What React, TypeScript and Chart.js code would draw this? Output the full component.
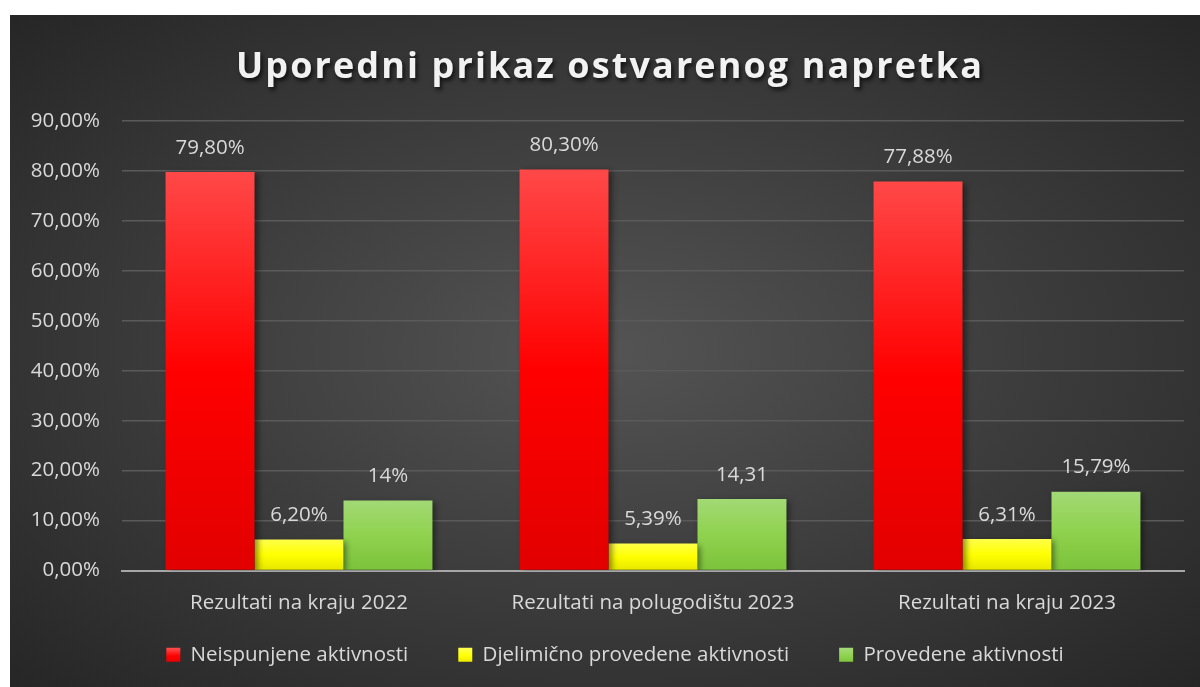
import React, { useEffect, useRef } from "react";
import { Chart, registerables } from "chart.js";

Chart.register(...registerables);

const chartTitle = "Uporedni prikaz ostvarenog napretka";
const categories = [
  "Rezultati na kraju 2022",
  "Rezultati na polugodištu 2023",
  "Rezultati na kraju 2023",
];
const seriesNames = [
  "Neispunjene aktivnosti",
  "Djelimično provedene aktivnosti",
  "Provedene aktivnosti",
];
const neispunjene = [79.8, 80.3, 77.88];
const djelimicno = [6.2, 5.39, 6.31];
const provedene = [14, 14.31, 15.79];
const neispunjeneLabels = ["79,80%", "80,30%", "77,88%"];
const djelimicnoLabels = ["6,20%", "5,39%", "6,31%"];
const provedeneLabels = ["14%", "14,31", "15,79%"];
const yMin = 0;
const yMax = 90;
const yStep = 10;

const FONT = "'Open Sans', 'Noto Sans', sans-serif";
const TEXT = "#d9d9d9";
const FS = 20.5;

const redStops = ["#ff4848", "#ff0000", "#e20000"];
const yellowStops = ["#ffff4a", "#ffff00", "#e6e600"];
const greenStops = ["#a2d975", "#8fd24e", "#7cc23a"];
const allStops = [redStops, yellowStops, greenStops];

const LEGEND_DX = 13;
const LEGEND_DY = -22;

const gradient = (stops: string[]) => (c: any) => {
  const chart = c.chart;
  const { chartArea, scales } = chart;
  if (!chartArea || c.type !== "data" || !scales.y) return stops[1];
  const v = c.raw as number;
  const y0 = scales.y.getPixelForValue(v);
  const y1 = scales.y.getPixelForValue(0);
  if (!isFinite(y0) || !isFinite(y1) || y0 === y1) return stops[1];
  const g = chart.ctx.createLinearGradient(0, y0, 0, y1);
  g.addColorStop(0, stops[0]);
  g.addColorStop(0.5, stops[1]);
  g.addColorStop(1, stops[2]);
  return g;
};

const labelSets = [neispunjeneLabels, djelimicnoLabels, provedeneLabels];

const barDecor = {
  id: "barDecor",
  afterLayout(chart: any) {
    const lg = chart.legend;
    if (lg) {
      lg.left += LEGEND_DX;
      lg.right += LEGEND_DX;
      lg.top += LEGEND_DY;
      lg.bottom += LEGEND_DY;
    }
  },
  beforeDatasetsDraw(chart: any) {
    const ctx = chart.ctx;
    ctx.save();
    ctx.shadowColor = "rgba(0,0,0,0.45)";
    ctx.shadowBlur = 6;
    ctx.shadowOffsetX = 3;
    ctx.shadowOffsetY = 2;
  },
  afterDatasetsDraw(chart: any) {
    const ctx = chart.ctx;
    ctx.restore();
    ctx.save();
    ctx.font = `${FS}px ${FONT}`;
    ctx.fillStyle = TEXT;
    ctx.textAlign = "center";
    ctx.textBaseline = "middle";
    chart.data.datasets.forEach((_ds: any, i: number) => {
      const meta = chart.getDatasetMeta(i);
      meta.data.forEach((el: any, j: number) => {
        ctx.fillText(labelSets[i][j], el.x, el.y - 24);
      });
    });
    ctx.restore();
  },
  afterDraw(chart: any) {
    const ctx = chart.ctx;
    ctx.save();
    ctx.font = `bold 36px ${FONT}`;
    (ctx as any).letterSpacing = "2.1px";
    ctx.fillStyle = "#f2f2f2";
    ctx.textAlign = "center";
    ctx.textBaseline = "alphabetic";
    ctx.shadowColor = "rgba(0,0,0,0.7)";
    ctx.shadowBlur = 4;
    ctx.shadowOffsetX = 2;
    ctx.shadowOffsetY = 3;
    ctx.fillText(chartTitle, 600, 63);
    ctx.restore();
  },
};

export default function App() {
  const ref = useRef<HTMLCanvasElement | null>(null);
  useEffect(() => {
    if (!ref.current) return;
    const chart = new Chart(ref.current, {
      type: "bar",
      data: {
        labels: categories,
        datasets: [
          { label: seriesNames[0], data: neispunjene, backgroundColor: gradient(redStops) as any },
          { label: seriesNames[1], data: djelimicno, backgroundColor: gradient(yellowStops) as any },
          { label: seriesNames[2], data: provedene, backgroundColor: gradient(greenStops) as any },
        ],
      },
      options: {
        animation: false,
        responsive: false,
        maintainAspectRatio: false,
        layout: { padding: { top: 106, left: 10, right: 16, bottom: -10 } },
        datasets: { bar: { categoryPercentage: 0.754, barPercentage: 1 } },
        plugins: {
          title: { display: false },
          tooltip: { enabled: false },
          legend: {
            position: "bottom",
            labels: {
              color: TEXT,
              font: { family: FONT, size: FS },
              boxWidth: 14,
              boxHeight: 14,
              padding: 50,
              generateLabels: (chart: any) => {
                const items = Chart.defaults.plugins.legend.labels.generateLabels(chart);
                const lg = chart.legend;
                return items.map((it: any, i: number) => {
                  const stops = allStops[i];
                  const g = chart.ctx.createLinearGradient(0, 634, 0, 648);
                  g.addColorStop(0, stops[0]);
                  g.addColorStop(0.5, stops[1]);
                  g.addColorStop(1, stops[2]);
                  return { ...it, fillStyle: g, strokeStyle: "rgba(0,0,0,0)", lineWidth: 0 };
                });
              },
            },
          },
        },
        scales: {
          x: {
            grid: { display: false, drawTicks: false },
            border: { color: "#a6a6a6", width: 2 },
            ticks: { color: TEXT, font: { family: FONT, size: FS }, padding: 20 },
            afterFit: (s: any) => {
              s.height = 46;
            },
          },
          y: {
            min: yMin,
            max: yMax,
            grid: { color: "#5a5a5a", lineWidth: 1.5, drawTicks: false },
            border: { display: false },
            ticks: {
              stepSize: yStep,
              color: TEXT,
              font: { family: FONT, size: FS },
              padding: 22,
              callback: (v: any) => Number(v).toFixed(2).replace(".", ",") + "%",
            },
            afterFit: (s: any) => {
              s.width = 102;
            },
          },
        },
      },
      plugins: [barDecor],
    });
    return () => chart.destroy();
  }, []);
  return (
    <div
      style={{
        position: "absolute",
        left: 10,
        top: 15,
        width: 1190,
        height: 672,
        background:
          "radial-gradient(ellipse farthest-corner at 50% 50%, #545454 0%, #3a3a3a 55%, #262626 100%)",
      }}
    >
      <canvas ref={ref} width={1190} height={672} style={{ display: "block" }} />
    </div>
  );
}
